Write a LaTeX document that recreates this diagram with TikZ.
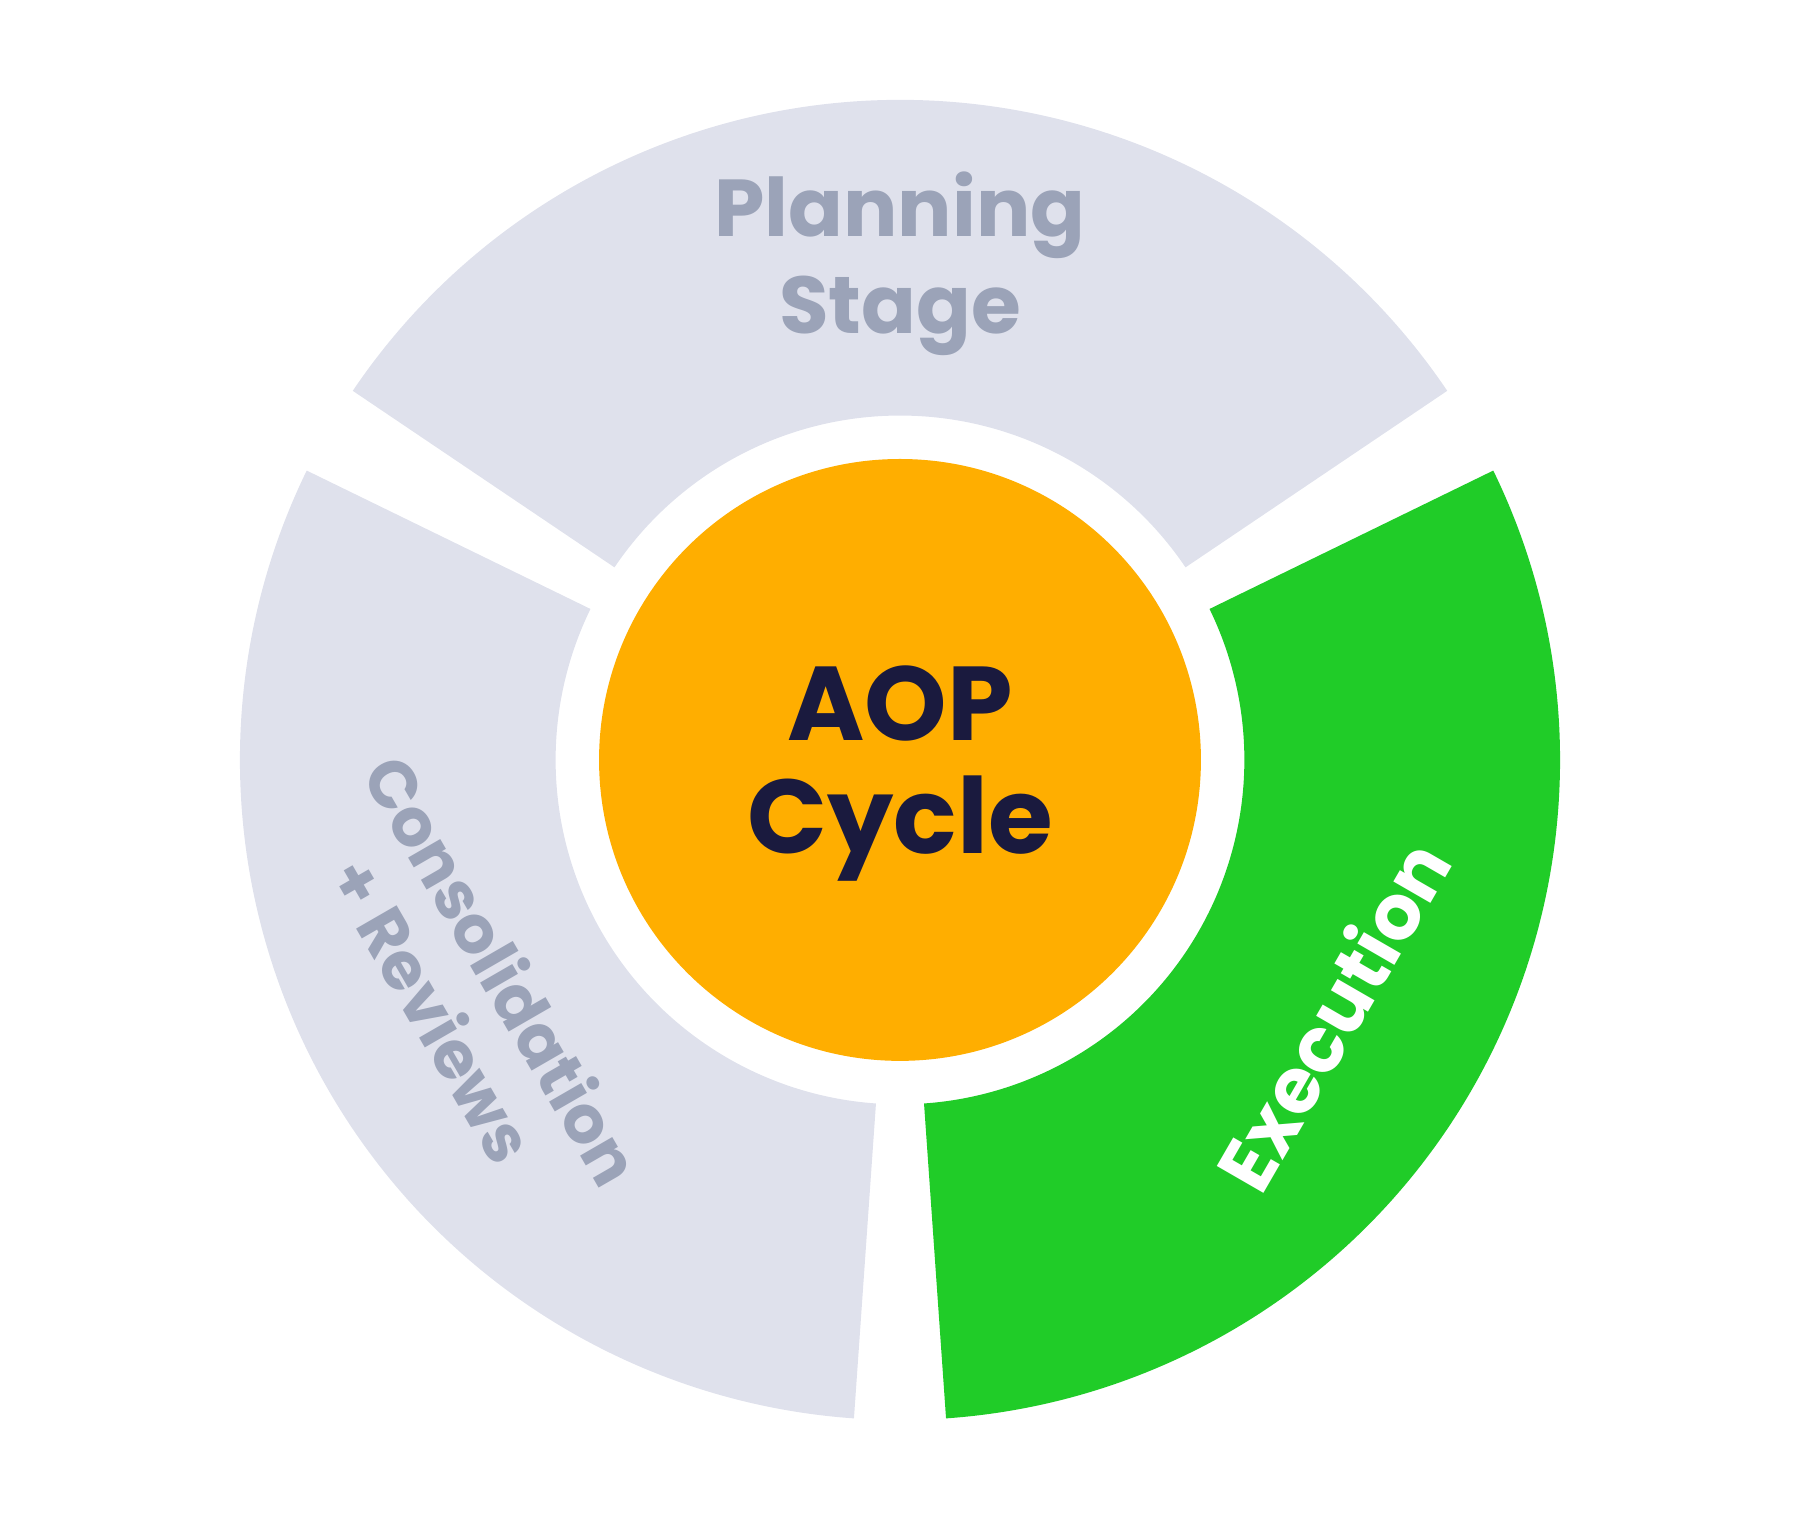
\documentclass[tikz,border=0pt]{standalone}
\usepackage{fontspec}
\usetikzlibrary{calc}
\setmainfont{Poppins}
\definecolor{ringgray}{HTML}{DFE1EC}
\definecolor{labelgray}{HTML}{9BA3B8}
\definecolor{execgreen}{HTML}{20CC28}
\definecolor{hubyellow}{HTML}{FFAE00}
\definecolor{hubtext}{HTML}{1A1A3E}
\begin{document}
\begin{tikzpicture}[x=0.01cm,y=0.01cm,
  stage/.style={font=\fontsize{20}{24}\selectfont\bfseries,align=center,text=labelgray},
  hub/.style={font=\fontsize{26}{28}\selectfont\bfseries,align=center,text=hubtext}]
\useasboundingbox (0,0) rectangle (1568,1324);
\coordinate (c) at (784,662);
\pgfmathsetmacro{\rout}{575}
\pgfmathsetmacro{\rin}{300}
% ring segments
\foreach \sa/\col in {34/ringgray,154/ringgray,274/execgreen}{
  \fill[\col] ($(c)+(\sa:\rout)$)
    arc[start angle=\sa,end angle=\sa+112,radius=\rout]
    -- ($(c)+(\sa+112:\rin)$)
    arc[start angle=\sa+112,end angle=\sa,radius=\rin] -- cycle;}
\node[circle,fill=hubyellow,minimum size=5.24cm,inner sep=0] (hub) at (c) {};
\node[hub] (aop) at (784,650) {AOP\\Cycle};
\node[stage] (plan) at (784,1094) {Planning\\Stage};
\node[stage,font=\fontsize{16.5}{20}\selectfont\bfseries,rotate=-60] (cons) at (408,462) {Consolidation\\+ Reviews};
\node[stage,font=\fontsize{19}{23}\selectfont\bfseries,text=white,rotate=60] (exec) at (1160,440) {Execution};
\end{tikzpicture}
\end{document}
